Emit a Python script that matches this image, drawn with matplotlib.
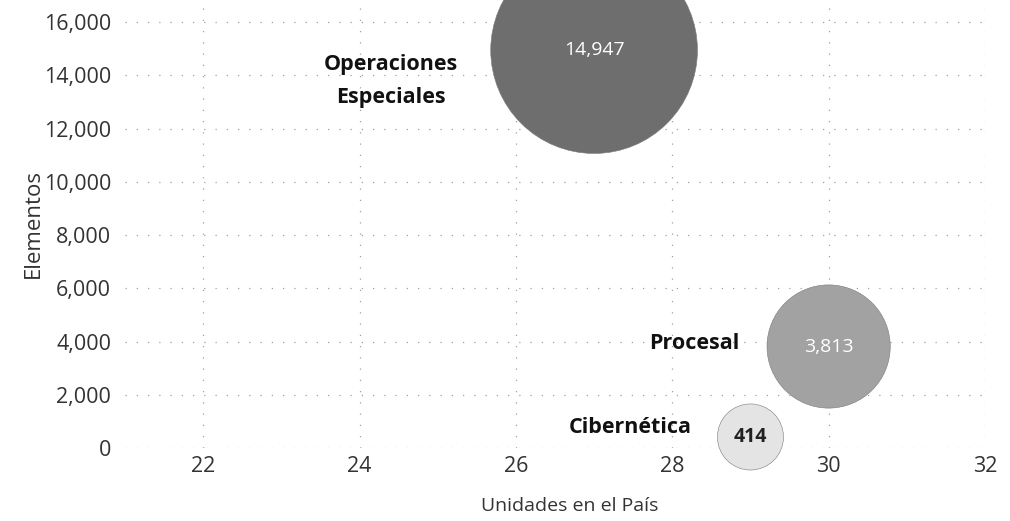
import numpy as np
from matplotlib import pyplot as plt

# datos
categorias = ['Operaciones\nEspeciales', 'Procesal', 'Cibernética']
unidades = [27, 30, 29]
elementos = [14947, 3813, 414]
etiquetas = ['14,947', '3,813', '414']

# posiciones de los nombres (a la izquierda de cada burbuja)
nombre_x = [24.4, 28.86, 28.25]
nombre_y = [13780, 3930, 780]

colores = ['#6e6e6e', '#a2a2a2', '#e4e4e4']
color_valor = ['white', 'white', '#222222']

plt.rcParams['font.family'] = ['Open Sans', 'DejaVu Sans']

fig = plt.figure(figsize=(10.10, 5.21), dpi=100)
ax = fig.add_axes([125 / 1010, 73 / 521, 860 / 1010, 448 / 521])

# tamano de burbuja (radio en px) a partir del valor
dpi = fig.dpi
radios = [19 + 0.69 * np.sqrt(v) for v in elementos]
tam = [(2 * r * 72 / dpi) ** 2 for r in radios]

ax.scatter(unidades, elementos, s=tam, c=colores, edgecolors='#7a7a7a',
           linewidths=0.4, zorder=3, clip_on=False)

for x, y, t, c in zip(unidades, elementos, etiquetas, color_valor):
    ax.text(x, y, t, ha='center', va='center', fontsize=14,
            color=c, fontweight='bold' if c != 'white' else 'normal', zorder=4)

for i, (x, y, n) in enumerate(zip(nombre_x, nombre_y, categorias)):
    ax.text(x, y, n, ha='center' if i == 0 else 'right', va='center',
            multialignment='center', fontsize=15.5, fontweight='bold',
            color='#111111', linespacing=1.75, zorder=4)

ax.set_xlim(21, 32)
ax.set_ylim(0, 16830)
ax.set_xticks([22, 24, 26, 28, 30, 32])
ax.set_yticks(np.arange(0, 16001, 2000))
ax.yaxis.set_major_formatter(plt.FuncFormatter(lambda v, p: f'{int(v):,}'))
ax.tick_params(length=0, labelsize=15.5, colors='#333333')
ax.tick_params(axis='x', pad=6)
ax.tick_params(axis='y', pad=10)

ax.grid(True, color='#a0a0a0', linestyle=(0, (1, 8)), linewidth=0.9, zorder=0)
ax.set_axisbelow(True)
for s in ax.spines.values():
    s.set_visible(False)

ax.set_xlabel('Unidades en el País', fontsize=14, color='#333333')
ax.xaxis.set_label_coords(0.517, -0.11)
ax.set_ylabel('Elementos', fontsize=16, color='#333333', labelpad=0)

fig.savefig('out.png', dpi=100)
